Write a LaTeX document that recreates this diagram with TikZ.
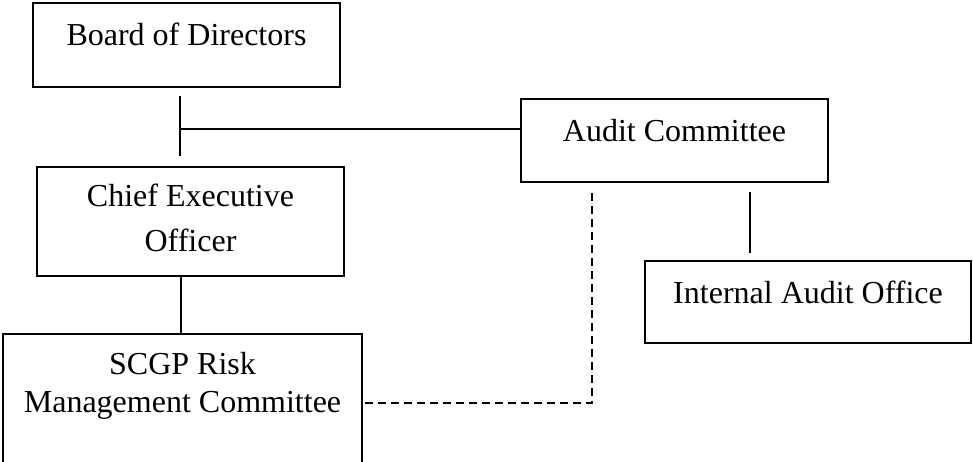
\documentclass[tikz,border=0pt]{standalone}
\usepackage{fontspec}
\setmainfont{Liberation Serif}
\begin{document}
\begin{tikzpicture}
[x=1pt,y=-1pt,
  boxdecorate/.style={shape=rectangle,draw,line width=2pt,inner sep=0pt},%
  textdecorate/.style={align=center,inner sep=0pt,anchor=base},%
  linedecorate/.style={line width=2pt},%
  dashdecorate/.style={line width=2pt,dash pattern=on 8pt off 5pt}]
\useasboundingbox (0,0) rectangle (973,461);
%% boxes
\foreach \nodename/\xa/\ya/\xb/\yb in {board/33/3/340/87,
  ceo/37/167/344/276, audit/521/99/828/182,
  office/645/261/971/343, risk/3/334/362/480} {
  \node (\nodename) at ({(\xa+\xb)/2},{(\ya+\yb)/2}) [boxdecorate,
    minimum width={(\xb-\xa)*1pt}, minimum height={(\yb-\ya)*1pt}] {};
}
%% texts, last baseline and leading
\foreach \nodename/\y/\lead/\content in {board/45/45/{Board of Directors},
  ceo/251/45/{Chief Executive\\Officer}, audit/141/45/{Audit Committee},
  office/303/45/{Internal Audit Office},
  risk/412/38/{SCGP Risk\\Management Committee}} {
  \node (\nodename-text) at (\nodename.north |- 0,\y)
    [textdecorate,font=\fontsize{32}{\lead}\selectfont] {\content};
}
%% stubs
\coordinate (boardstub) at (180,96);
\coordinate (ceostub) at (180,156);
\coordinate (tee) at (180,129);
\coordinate (ceofoot) at (181,275);
\coordinate (auditstub) at (750,192);
\coordinate (officestub) at (750,253);
\coordinate (dashtop) at (592,193);
%% lines
\path
\foreach \startnode/\endnode in {boardstub/ceostub, auditstub/officestub} {
  (\startnode) edge[linedecorate] (\endnode)
};
\draw[linedecorate] (tee) -- (tee -| audit.west);
\draw[linedecorate] (ceofoot) -- (ceofoot |- risk.north);
\draw[dashdecorate] (dashtop) |- (risk.east |- 0,403);
\end{tikzpicture}
\end{document}
